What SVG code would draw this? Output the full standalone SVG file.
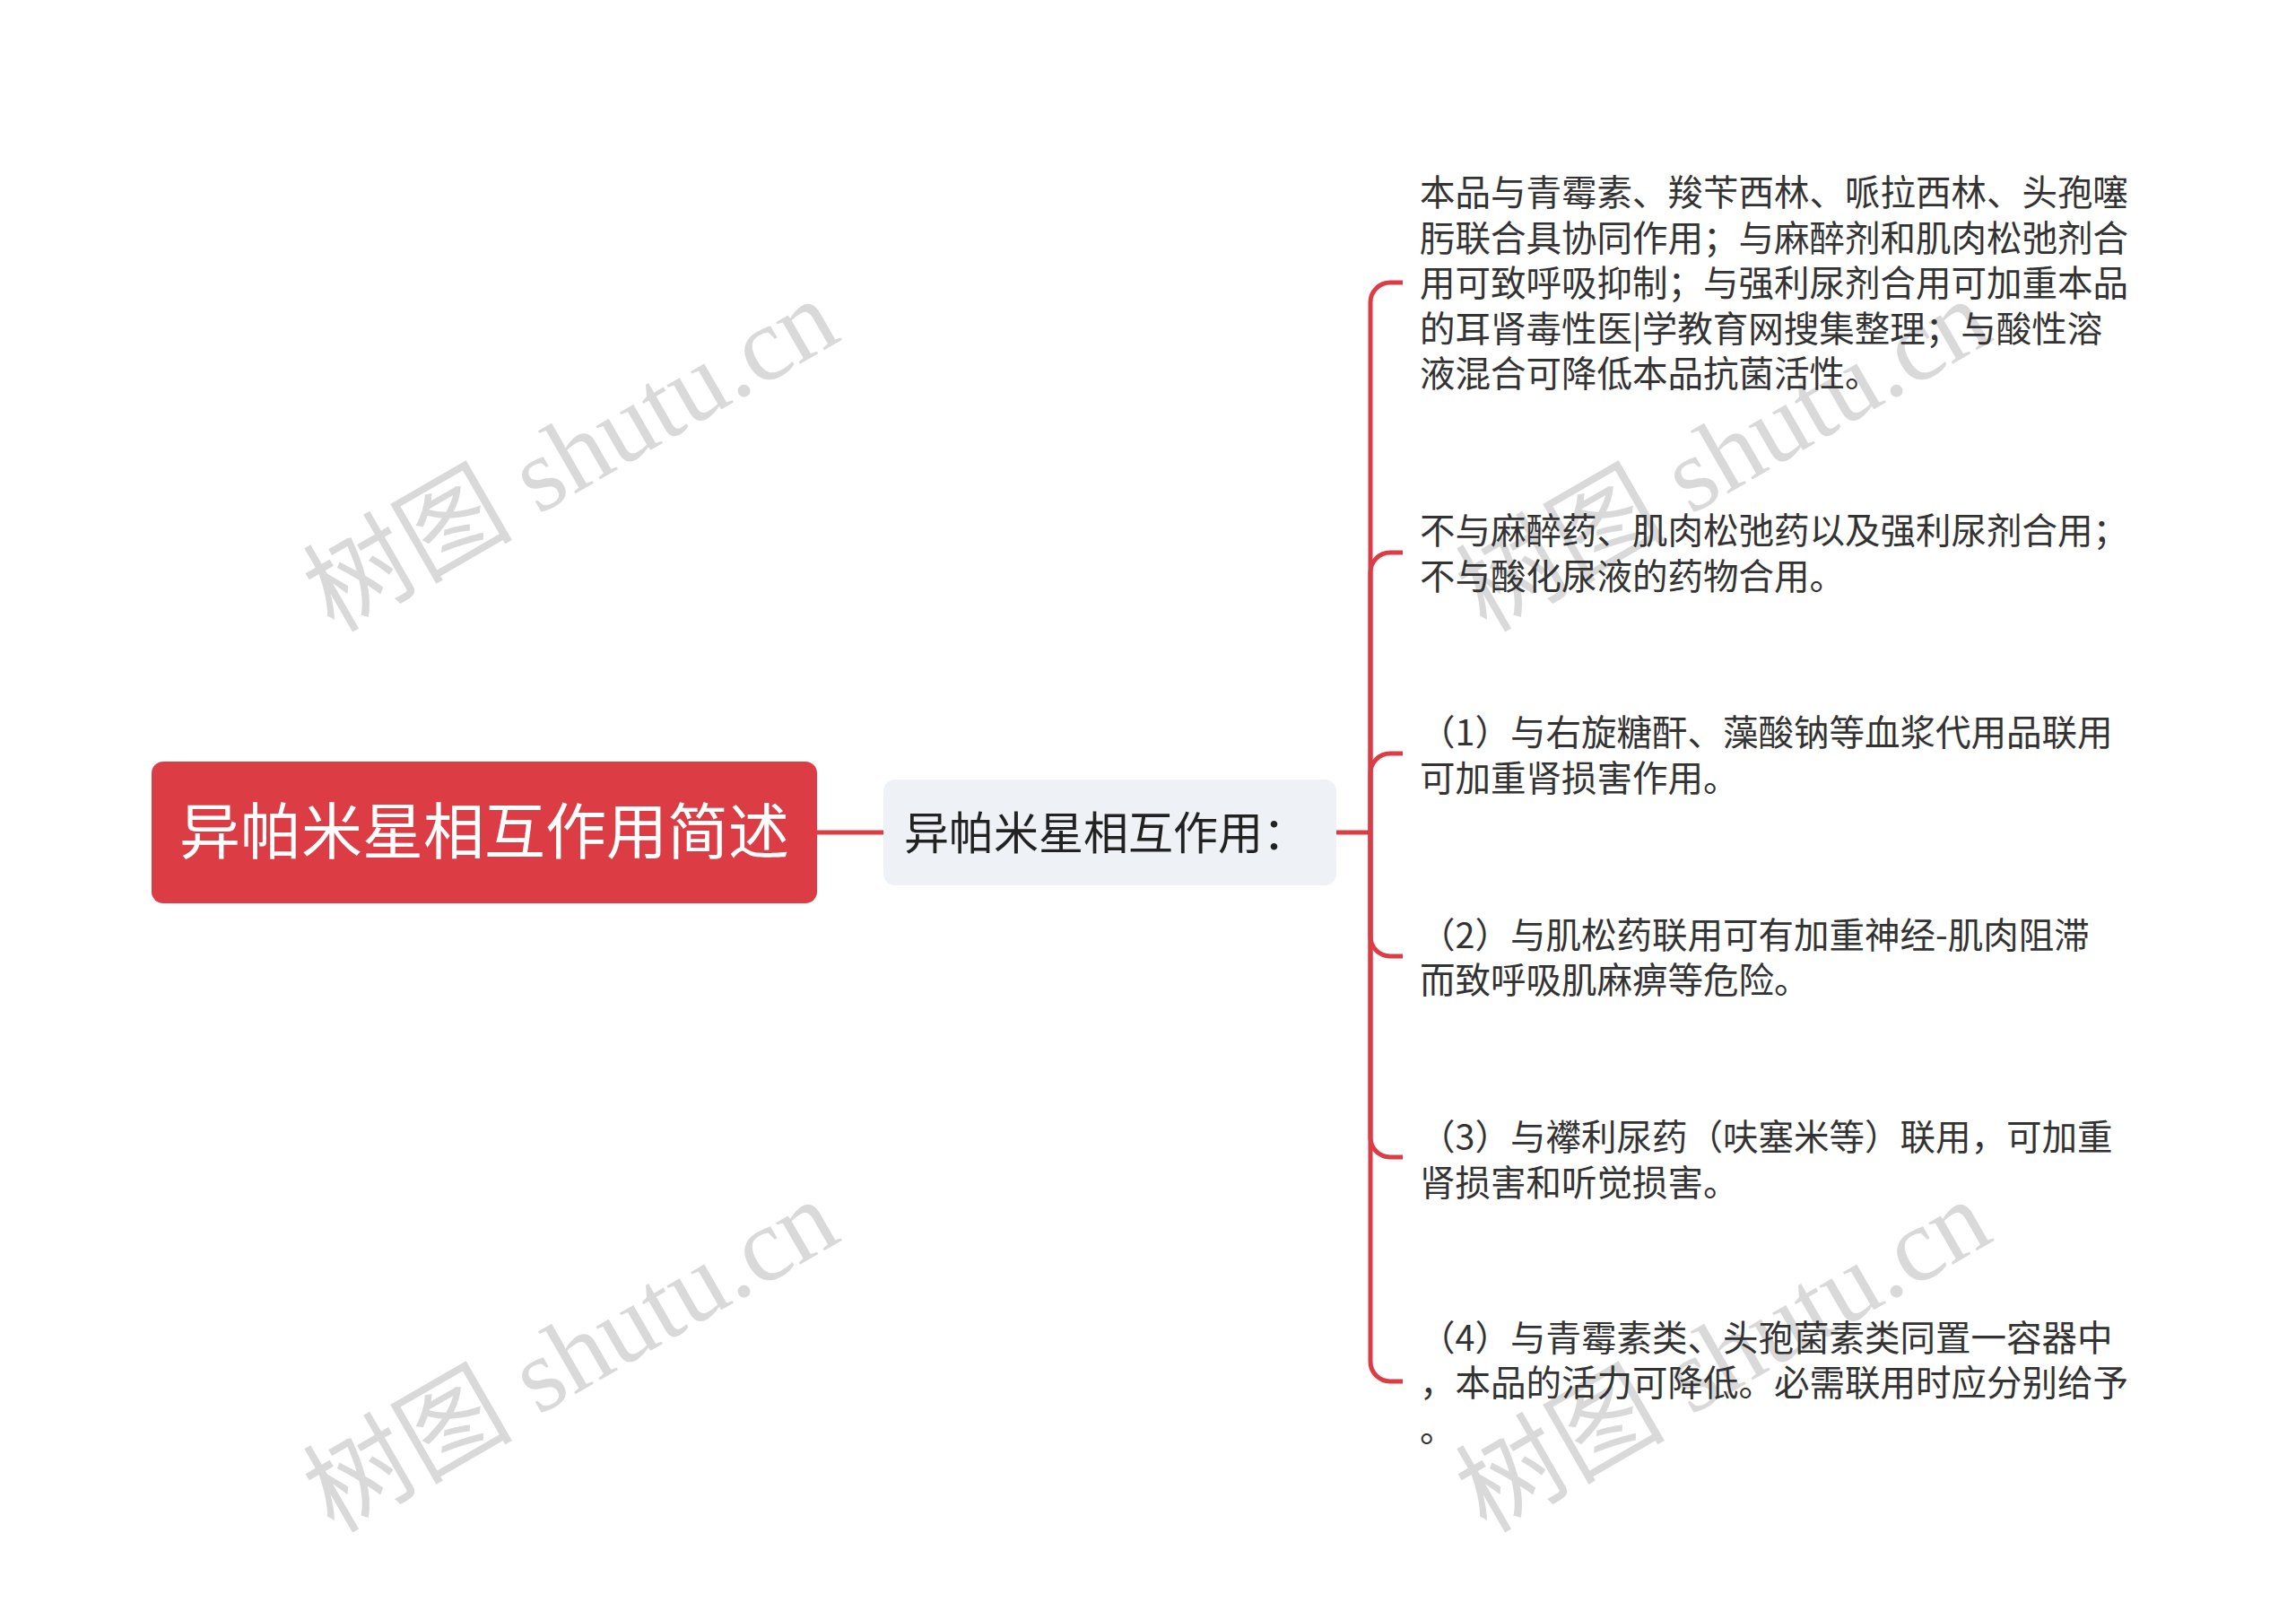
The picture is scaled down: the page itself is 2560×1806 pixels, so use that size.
<svg xmlns="http://www.w3.org/2000/svg" width="2560" height="1806" viewBox="0 0 2560 1806">
<style>
.wm{font-family:"Liberation Serif","Noto Sans CJK SC",serif;font-size:117px;fill:#d9d9d9;}
.root-t{font-family:"Noto Sans CJK SC",sans-serif;font-size:68px;fill:#ffffff;}
.mid-t{font-family:"Noto Sans CJK SC",sans-serif;font-size:50px;fill:#222222;}
.leaf-t{font-family:"Noto Sans CJK SC",sans-serif;font-size:39.5px;fill:#333333;}
.conn{fill:none;stroke:#dc3c44;stroke-width:5;}
</style>
<rect width="2560" height="1806" fill="#ffffff"/>
<g id="watermarks">
<text class="wm" x="372" y="706" transform="rotate(-30 372 706)">树图 shutu.cn</text>
<text class="wm" x="1657" y="706" transform="rotate(-30 1657 706)">树图 shutu.cn</text>
<text class="wm" x="372" y="1710" transform="rotate(-30 372 1710)">树图 shutu.cn</text>
<text class="wm" x="1657" y="1710" transform="rotate(-30 1657 1710)">树图 shutu.cn</text>
</g>
<g id="connectors">
<path class="conn" d="M911 928 H985"/>
<path class="conn" d="M1490 928 H1528"/>
<path class="conn" d="M1528 928 V337 A22 22 0 0 1 1550 315 H1564"/>
<path class="conn" d="M1528 928 V638 A22 22 0 0 1 1550 616 H1564"/>
<path class="conn" d="M1528 928 V862 A22 22 0 0 1 1550 840 H1564"/>
<path class="conn" d="M1528 928 V1044 A22 22 0 0 0 1550 1066 H1564"/>
<path class="conn" d="M1528 928 V1268 A22 22 0 0 0 1550 1290 H1564"/>
<path class="conn" d="M1528 928 V1518 A22 22 0 0 0 1550 1540 H1564"/>
</g>
<g id="root">
<rect x="169" y="849" width="742" height="158" rx="13" fill="#dc3c44"/>
<text class="root-t" x="540" y="952" text-anchor="middle">异帕米星相互作用简述</text>
</g>
<g id="mid">
<rect x="985" y="869" width="505" height="118" rx="13" fill="#eef1f5"/>
<text class="mid-t" x="1008" y="947">异帕米星相互作用：</text>
</g>
<g id="leaf1">
<text class="leaf-t" x="1583" y="229">本品与青霉素、羧苄西林、哌拉西林、头孢噻</text>
<text class="leaf-t" x="1583" y="279.5">肟联合具协同作用；与麻醉剂和肌肉松弛剂合</text>
<text class="leaf-t" x="1583" y="330">用可致呼吸抑制；与强利尿剂合用可加重本品</text>
<text class="leaf-t" x="1583" y="380.5">的耳肾毒性医|学教育网搜集整理；与酸性溶</text>
<text class="leaf-t" x="1583" y="431">液混合可降低本品抗菌活性。</text>
</g>
<g id="leaf2">
<text class="leaf-t" x="1583" y="606">不与麻醉药、肌肉松弛药以及强利尿剂合用；</text>
<text class="leaf-t" x="1583" y="656.5">不与酸化尿液的药物合用。</text>
</g>
<g id="leaf3">
<text class="leaf-t" x="1583" y="831">（1）与右旋糖酐、藻酸钠等血浆代用品联用</text>
<text class="leaf-t" x="1583" y="881.5">可加重肾损害作用。</text>
</g>
<g id="leaf4">
<text class="leaf-t" x="1583" y="1056.5">（2）与肌松药联用可有加重神经-肌肉阻滞</text>
<text class="leaf-t" x="1583" y="1107">而致呼吸肌麻痹等危险。</text>
</g>
<g id="leaf5">
<text class="leaf-t" x="1583" y="1282">（3）与襻利尿药（呋塞米等）联用，可加重</text>
<text class="leaf-t" x="1583" y="1332.5">肾损害和听觉损害。</text>
</g>
<g id="leaf6">
<text class="leaf-t" x="1583" y="1505.5">（4）与青霉素类、头孢菌素类同置一容器中</text>
<text class="leaf-t" x="1583" y="1556">，本品的活力可降低。必需联用时应分别给予</text>
<text class="leaf-t" x="1583" y="1606.5">。</text>
</g>
</svg>
